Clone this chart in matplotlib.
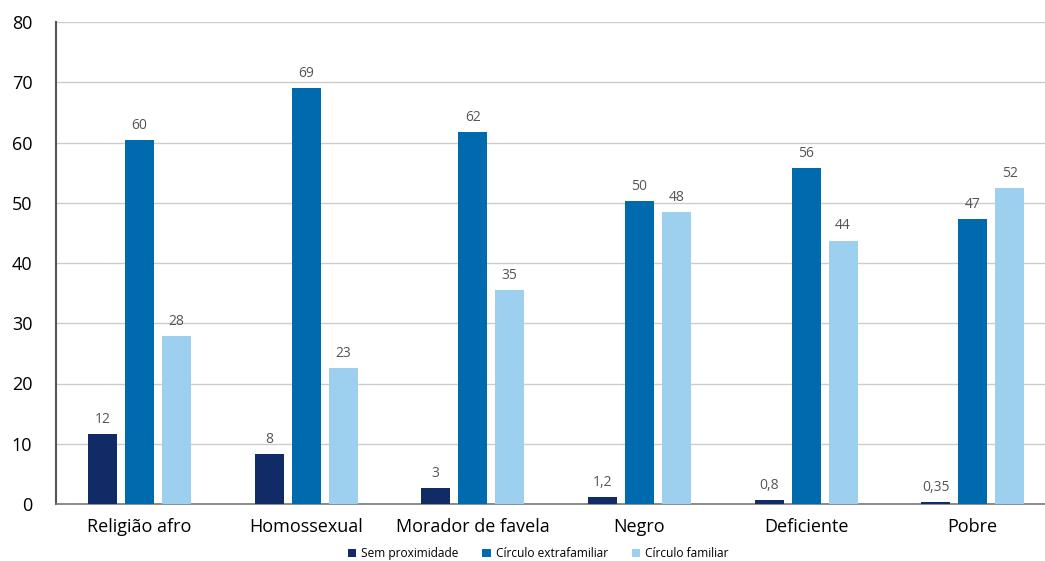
import matplotlib
matplotlib.use("Agg")
import matplotlib.pyplot as plt
import numpy as np

plt.rcParams['font.family'] = ['Open Sans', 'DejaVu Sans']

categories = ["Religião afro", "Homossexual", "Morador de favela", "Negro", "Deficiente", "Pobre"]
series_names = ["Sem proximidade", "Círculo extrafamiliar", "Círculo familiar"]
sem_proximidade = [11.6, 8.3, 2.7, 1.2, 0.7, 0.35]
extrafamiliar = [60.4, 69.0, 61.7, 50.3, 55.8, 47.3]
familiar = [27.9, 22.6, 35.5, 48.5, 43.7, 52.4]
labels_sem = ["12", "8", "3", "1,2", "0,8", "0,35"]
labels_extra = ["60", "69", "62", "50", "56", "47"]
labels_fam = ["28", "23", "35", "48", "44", "52"]
colors = ["#112b66", "#006aaf", "#9dd0ee"]

fig = plt.figure(figsize=(10.45, 5.61), dpi=100)
ax = fig.add_axes([56/1045, 57/561, 1000/1045, 482/561])

x = np.arange(len(categories))
w = 0.174
off = 0.222
for i, (vals, labs) in enumerate(zip([sem_proximidade, extrafamiliar, familiar],
                                     [labels_sem, labels_extra, labels_fam])):
    bars = ax.bar(x + (i - 1) * off, vals, width=w, color=colors[i], label=series_names[i], zorder=3)
    for b, lab in zip(bars, labs):
        ax.text(b.get_x() + b.get_width() / 2, b.get_height() + 1.2, lab,
                ha='center', va='bottom', fontsize=10, color='#555555')

ax.set_xlim(-0.5, 5.5)
ax.set_ylim(0, 80)
ax.set_yticks(range(0, 81, 10))
ax.yaxis.grid(True, color='#cccccc', linewidth=1, zorder=0)
ax.set_axisbelow(True)
ax.set_xticks(x)
ax.set_xticklabels(categories, fontsize=13)
ax.tick_params(axis='y', labelsize=13, length=0, pad=17)
ax.tick_params(axis='x', length=0, pad=10)
for s in ['top', 'right']:
    ax.spines[s].set_visible(False)
ax.spines['left'].set_color('#555555')
ax.spines['left'].set_linewidth(1.5)
ax.spines['bottom'].set_color('#777777')
ax.spines['bottom'].set_linewidth(1.2)

leg = fig.legend(loc='lower center', bbox_to_anchor=(0.515, -0.018), ncol=3, frameon=False,
                 fontsize=8.6, handlelength=0.7, handleheight=0.7, handletextpad=0.4,
                 columnspacing=2.0)

fig.savefig("out.png", dpi=100)
